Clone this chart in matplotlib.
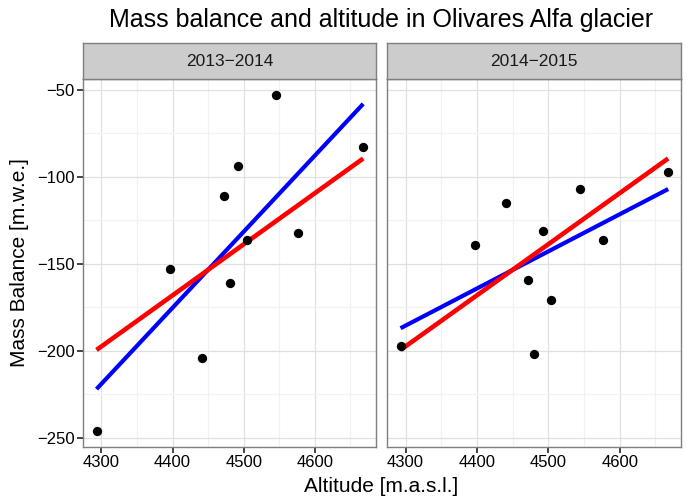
import numpy as np
import matplotlib
matplotlib.use("Agg")
import matplotlib.pyplot as plt
from matplotlib.ticker import MultipleLocator

plt.rcParams['font.family'] = ['Liberation Sans', 'DejaVu Sans']

# altitudes of the stakes (same in both years)
altitude = [4293, 4397, 4441, 4472, 4480, 4492, 4504, 4545, 4577, 4668]
# mass balance per year
mb_1314 = [-246, -153, -204, -111, -161, -94, -136, -53, -132, -83]
mb_1415 = [-197, -139, -115, -159, -202, -131, -171, -107, -136, -97]
panels = ["2013\u22122014", "2014\u22122015"]
series = [mb_1314, mb_1415]

# fitted lines, values at the lowest and highest stake
fit_x = [4293, 4668]
fit_blue = [[-222, -58], [-187, -107]]   # fit per year
fit_red = [-199.5, -89.4]                # fit of both years together

fig = plt.figure(figsize=(6.86, 5.0), dpi=100)
W, H = 686.0, 500.0
boxes = [(83, 376), (387, 681)]
top, bot, strip_top = 79, 447, 43

for k in range(2):
    x0, x1 = boxes[k]
    ax = fig.add_axes([x0 / W, 1 - bot / H, (x1 - x0) / W, (bot - top) / H])
    ax.set_xlim(4274, 4686)
    ax.set_ylim(-255.3, -43.7)
    ax.xaxis.set_major_locator(MultipleLocator(100))
    ax.xaxis.set_minor_locator(MultipleLocator(50))
    ax.yaxis.set_major_locator(MultipleLocator(50))
    ax.yaxis.set_minor_locator(MultipleLocator(25))
    ax.grid(which='major', color='#e0e0e0', lw=0.9)
    ax.grid(which='minor', color='#f2f2f2', lw=0.9)
    ax.set_axisbelow(True)
    for s in ax.spines.values():
        s.set_color('#7f7f7f')
        s.set_linewidth(1.0)
    ax.tick_params(which='major', direction='out', length=4, width=1.2, color='#222222',
                   labelsize=12, labelcolor='black', pad=2)
    ax.tick_params(which='minor', length=0)
    ax.set_xticks([4300, 4400, 4500, 4600])
    ax.set_xticklabels(["4300", "4400", "4500", "4600"])
    if k == 0:
        ax.set_yticks([-250, -200, -150, -100, -50])
        ax.set_yticklabels(["\u2212250", "\u2212200", "\u2212150", "\u2212100", "\u221250"])
    else:
        ax.tick_params(axis='y', left=False, labelleft=False)

    ax.scatter(altitude, series[k], s=45, color='black', zorder=3, linewidths=0)
    ax.plot(fit_x, fit_blue[k], color='blue', lw=3.0, solid_capstyle='butt', zorder=2)
    ax.plot(fit_x, fit_red, color='red', lw=3.3, solid_capstyle='butt', zorder=2)

    # facet strip
    sax = fig.add_axes([x0 / W, 1 - top / H, (x1 - x0) / W, (top - strip_top) / H])
    sax.set_facecolor('#cccccc')
    sax.set_xticks([])
    sax.set_yticks([])
    for s in sax.spines.values():
        s.set_color('#7f7f7f')
        s.set_linewidth(1.0)
    sax.text(0.5, 0.48, panels[k], ha='center', va='center', fontsize=12.5,
             color='#1a1a1a', transform=sax.transAxes)

fig.text(381 / W, 1 - 20 / H, "Mass balance and altitude in Olivares Alfa glacier",
         ha='center', va='center', fontsize=18)
fig.text(381 / W, 1 - 487 / H, "Altitude [m.a.s.l.]", ha='center', va='center', fontsize=15)
fig.text(20 / W, 1 - 263 / H, "Mass Balance [m.w.e.]", ha='center', va='center',
         rotation=90, fontsize=15)

plt.savefig("out.png", dpi=100)
